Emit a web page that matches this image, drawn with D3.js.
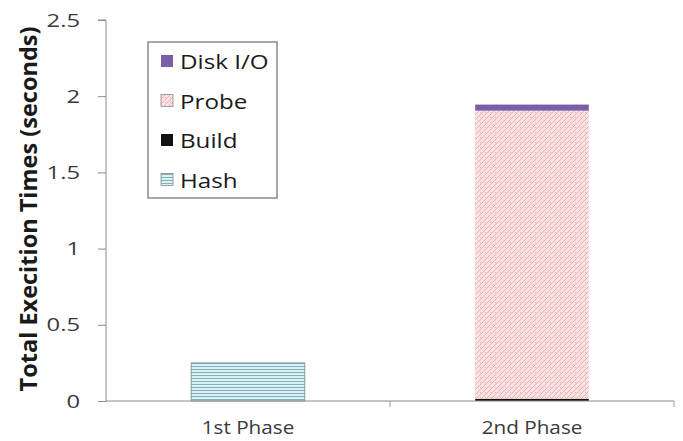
<!DOCTYPE html>
<html><head><meta charset="utf-8">
<script src="https://cdn.jsdelivr.net/npm/d3@7/dist/d3.min.js"></script>
<style>body{margin:0;background:#fff}</style>
</head><body>
<svg id="c" width="683" height="441"></svg>
<script>
const categories = ["1st Phase", "2nd Phase"];
const seriesNames = ["Hash", "Build", "Probe", "Disk I/O"];
const hashVals = [0.25, 0];
const buildVals = [0, 0.015];
const probeVals = [0, 1.89];
const diskVals = [0, 0.04];
const yTicks = [0, 0.5, 1, 1.5, 2, 2.5];
const yTickLabels = ["0", "0.5", "1", "1.5", "2", "2.5"];
const yTitle = "Total Execition Times (seconds)";
const legendOrder = ["Disk I/O", "Probe", "Build", "Hash"];

const FONT = "Open Sans, sans-serif";
const svg = d3.select("#c");
const defs = svg.append("defs");
const ph = defs.append("pattern").attr("id","pHash").attr("patternUnits","userSpaceOnUse").attr("width",6).attr("height",3);
ph.append("rect").attr("width",6).attr("height",3).attr("fill","#dcf0f3");
ph.append("line").attr("x1",0).attr("x2",6).attr("y1",0.5).attr("y2",0.5).attr("stroke","#7fb2bd").attr("stroke-width",1);
const pp = defs.append("pattern").attr("id","pProbe").attr("patternUnits","userSpaceOnUse").attr("width",5).attr("height",5);
pp.append("rect").attr("width",5).attr("height",5).attr("fill","#fbe3e3");
pp.append("path").attr("d","M0,5 L5,0 M-1,1 L1,-1 M4,6 L6,4").attr("stroke","#e8a3a3").attr("stroke-width",0.8);
pp.append("rect").attr("x",0).attr("y",2).attr("width",1).attr("height",1).attr("fill","#ecb3b3");
const fills = {"Hash":"url(#pHash)","Build":"#111","Probe":"url(#pProbe)","Disk I/O":"#7b5ea8"};

const x0 = 106, x1 = 674, yTop = 20, yBot = 401;
const x = d3.scaleBand().domain(categories).range([x0, x1]).paddingInner(0.6).paddingOuter(0.3);
const y = d3.scaleLinear().domain([0, 2.5]).range([yBot, yTop]);

const rows = categories.map((c,i)=>({cat:c, "Hash":hashVals[i], "Build":buildVals[i], "Probe":probeVals[i], "Disk I/O":diskVals[i]}));
const stacked = d3.stack().keys(seriesNames)(rows);

const g = svg.append("g");
stacked.forEach(s=>{
  g.selectAll(null).data(s.filter(d=>d[1]-d[0]>0)).enter().append("rect")
    .attr("x", d=>x(d.data.cat)).attr("width", x.bandwidth())
    .attr("y", d=>y(d[1])).attr("height", d=>y(d[0])-y(d[1]))
    .attr("fill", fills[s.key])
    .attr("stroke", s.key==="Hash" ? "#6d8890" : "none").attr("stroke-width",0.8);
});

// Y axis
const yAxis = d3.axisLeft(y).tickValues(yTicks).tickFormat((d,i)=>yTickLabels[i]).tickSize(8).tickPadding(18);
const ya = svg.append("g").attr("transform",`translate(${x0},0)`).call(yAxis);
ya.select(".domain").attr("stroke","#8a8a8a").attr("d",`M-8,${yTop}H0V${yBot}`);
ya.selectAll(".tick line").attr("stroke","#8a8a8a");
ya.selectAll(".tick text").each(function(){
  const t = d3.select(this); const tx = +t.attr("x");
  t.attr("x",0).attr("transform",`translate(${tx},0) scale(1.25,1)`);
}).attr("font-family",FONT).attr("font-size",19).attr("fill","#3a3a3a");

// X axis
const xAxis = d3.axisBottom(x).tickSize(0).tickPadding(20);
const xa = svg.append("g").attr("transform",`translate(0,${yBot})`).call(xAxis);
xa.select(".domain").attr("stroke","#8a8a8a").attr("d",`M${x0},0H${x1}`);
xa.selectAll(".tick text").attr("font-family",FONT).attr("font-size",18.5).attr("fill","#3a3a3a")
  .attr("transform","scale(1.12,1)");
const sep = [(x(categories[0])+x.bandwidth()+x(categories[1]))/2, x1];
xa.selectAll(".sep").data(sep).enter().append("line").attr("class","sep")
  .attr("x1",d=>d).attr("x2",d=>d).attr("y1",0).attr("y2",6).attr("stroke","#9a9a9a");

// Y title
svg.append("text").attr("transform",`translate(37,${209}) rotate(-90)`)
  .attr("text-anchor","middle").attr("font-family",FONT).attr("font-weight","bold")
  .attr("font-size",23.5).attr("fill","#1a1a1a").text(yTitle);

// Legend
const lg = svg.append("g");
lg.append("rect").attr("x",148).attr("y",42).attr("width",129).attr("height",156)
  .attr("fill","#fff").attr("stroke","#8a8a8a").attr("stroke-width",1.5);
legendOrder.forEach((k,i)=>{
  const base = 69 + i*39.5;
  lg.append("rect").attr("x",161).attr("y",base-14).attr("width",12).attr("height",12)
    .attr("fill",fills[k]).attr("stroke", k==="Hash"||k==="Probe" ? "#888" : "none").attr("stroke-width",0.8);
  lg.append("text").attr("transform",`translate(180,${base}) scale(1.18,1)`)
    .attr("font-family",FONT).attr("font-size",20.5).attr("fill","#1a1a1a").text(k);
});
</script>
</body></html>
